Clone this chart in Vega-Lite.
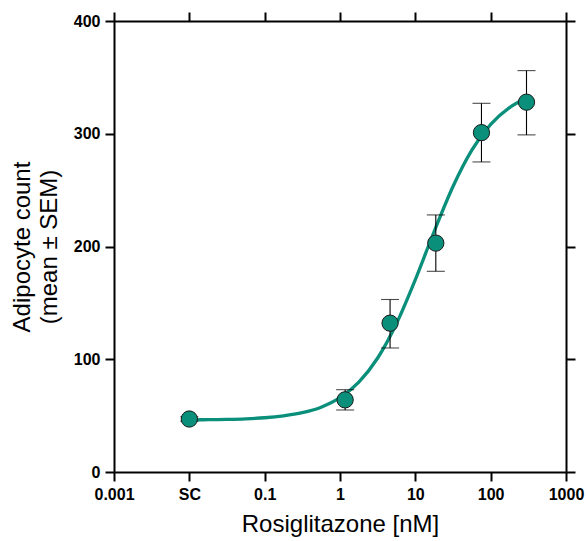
{
  "$schema": "https://vega.github.io/schema/vega-lite/v6.json",
  "width": 452,
  "height": 451,
  "autosize": "none",
  "padding": {"left": 114, "top": 21, "right": 21, "bottom": 69},
  "background": "white",
  "config": {
    "view": {"stroke": null},
    "font": "Liberation Sans",
    "axis": {
      "domainColor": "black",
      "domainWidth": 2,
      "tickColor": "black",
      "tickWidth": 2,
      "tickSize": 9,
      "grid": false,
      "labelFont": "Liberation Sans",
      "labelFontSize": 16,
      "labelFontWeight": "bold",
      "labelColor": "black",
      "titleFont": "Liberation Sans",
      "titleFontSize": 24,
      "titleFontWeight": "normal",
      "titleColor": "black"
    }
  },
  "datasets": {
    "means": [
      {"conc": 0.01, "mean": 47, "lo": 45, "hi": 49},
      {"conc": 1.17, "mean": 64, "lo": 55, "hi": 73},
      {"conc": 4.62, "mean": 132, "lo": 110, "hi": 153},
      {"conc": 18.7, "mean": 203, "lo": 178, "hi": 228},
      {"conc": 75.5, "mean": 301, "lo": 275, "hi": 327},
      {"conc": 299, "mean": 328, "lo": 299, "hi": 356}
    ],
    "fit": [
      {"conc": 0.01, "count": 46.2},
      {"conc": 0.0178, "count": 46.4},
      {"conc": 0.0316, "count": 46.7},
      {"conc": 0.0562, "count": 47.2},
      {"conc": 0.1, "count": 48.1},
      {"conc": 0.178, "count": 49.8},
      {"conc": 0.316, "count": 52.6},
      {"conc": 0.562, "count": 57.5},
      {"conc": 1, "count": 65.9},
      {"conc": 1.778, "count": 79.7},
      {"conc": 3.162, "count": 101.1},
      {"conc": 5.623, "count": 131.7},
      {"conc": 10, "count": 170.6},
      {"conc": 17.78, "count": 213.3},
      {"conc": 31.62, "count": 253.2},
      {"conc": 56.23, "count": 285.4},
      {"conc": 100, "count": 308.3},
      {"conc": 177.8, "count": 323.2},
      {"conc": 281.8, "count": 330.8}
    ]
  },
  "resolve": {"scale": {"x": "shared", "y": "shared"}, "axis": {"x": "independent", "y": "independent"}},
  "layer": [
    {
      "data": {"name": "fit"},
      "mark": {"type": "line", "color": "#0a8f7b", "strokeWidth": 3.3, "interpolate": "monotone"},
      "encoding": {
        "x": {
          "field": "conc", "type": "quantitative",
          "scale": {"type": "log", "domain": [0.001, 1000], "nice": false},
          "axis": {
            "orient": "bottom",
            "values": [0.001, 0.01, 0.1, 1, 10, 100, 1000],
            "labelExpr": "datum.value == 0.01 ? 'SC' : format(datum.value, '~g')",
            "labelPadding": 5,
            "labelFlush": false,
            "title": "Rosiglitazone [nM]",
            "titlePadding": 10
          }
        },
        "y": {
          "field": "count", "type": "quantitative",
          "scale": {"domain": [0, 400], "nice": false, "zero": true},
          "axis": {
            "orient": "left",
            "values": [0, 100, 200, 300, 400],
            "labelPadding": 5,
            "labelFlush": false,
            "title": ["Adipocyte count", "(mean ± SEM)"],
            "titleLineHeight": 27,
            "titlePadding": 12
          }
        }
      }
    },
    {
      "data": {"name": "means"},
      "mark": {"type": "rule", "color": "black", "strokeWidth": 1.1},
      "encoding": {
        "x": {
          "field": "conc", "type": "quantitative",
          "axis": {"orient": "top", "values": [0.001, 0.01, 0.1, 1, 10, 100, 1000], "labels": false, "title": null}
        },
        "y": {
          "field": "lo", "type": "quantitative",
          "axis": {"orient": "right", "values": [0, 100, 200, 300, 400], "labels": false, "title": null}
        },
        "y2": {"field": "hi"}
      }
    },
    {
      "data": {"name": "means"},
      "mark": {"type": "tick", "orient": "horizontal", "color": "black", "size": 18, "thickness": 1.1},
      "encoding": {
        "x": {"field": "conc", "type": "quantitative", "axis": null},
        "y": {"field": "lo", "type": "quantitative", "axis": null}
      }
    },
    {
      "data": {"name": "means"},
      "mark": {"type": "tick", "orient": "horizontal", "color": "black", "size": 18, "thickness": 1.1},
      "encoding": {
        "x": {"field": "conc", "type": "quantitative", "axis": null},
        "y": {"field": "hi", "type": "quantitative", "axis": null}
      }
    },
    {
      "data": {"name": "means"},
      "mark": {"type": "point", "shape": "circle", "filled": true, "fill": "#0a8f7b", "stroke": "#1a1a1a", "strokeWidth": 1, "opacity": 1, "size": 265},
      "encoding": {
        "x": {"field": "conc", "type": "quantitative", "axis": null},
        "y": {"field": "mean", "type": "quantitative", "axis": null}
      }
    }
  ]
}
